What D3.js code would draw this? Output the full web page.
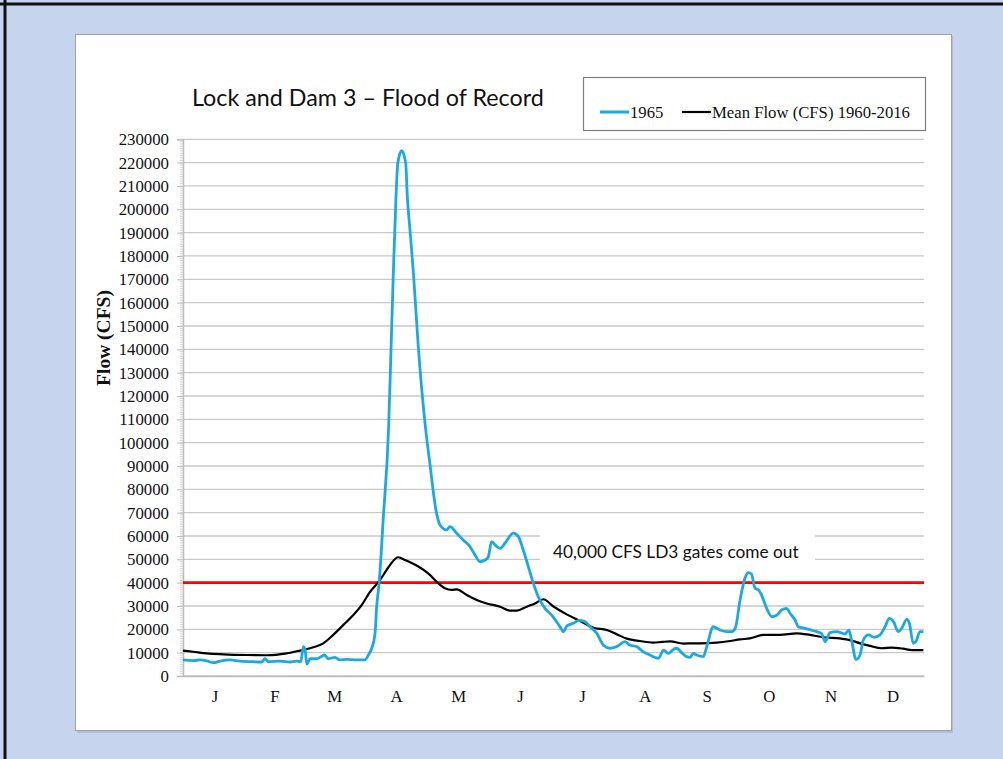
<!DOCTYPE html>
<html><head><meta charset="utf-8">
<script src="https://cdn.jsdelivr.net/npm/d3@7"></script>
<style>html,body{margin:0;padding:0;background:#c6d4ee;}svg{display:block;}</style>
</head><body>
<svg id="chart" width="1003" height="759"></svg>
<script>
// ---- data ----
const monthLabels = ["J","F","M","A","M","J","J","A","S","O","N","D"];
const monthDays = [31,28,31,30,31,30,31,31,30,31,30,31];
const yTickValues = [0,10000,20000,30000,40000,50000,60000,70000,80000,90000,100000,110000,120000,130000,140000,150000,160000,170000,180000,190000,200000,210000,220000,230000];
const seriesNames = ["1965", "Mean Flow (CFS) 1960-2016"];
const threshold = 40000;
const titleText = "Lock and Dam 3 \u2013 Flood of Record";
const annotationText = "40,000 CFS LD3 gates come out";
const yTitle = "Flow (CFS)";

const days1965 = [0,5,8.4,11.7,15,18.2,23.2,28.1,34.6,38.8,40.4,42,47.8,52.7,56,58,59.3,60.1,61,62.6,65.9,67.5,69.6,71.6,74.9,77.3,80.6,85.5,89.6,91.3,93,94.6,95.4,96.6,98.6,101.3,102.5,103.6,104.9,105.8,107.7,109.7,110.5,111.8,113.5,115.9,119.2,121.6,124.9,126.6,129.9,131.5,134.8,138,141.4,143.8,146.3,148.8,150.4,152,153.7,156.2,158.6,162.7,165.2,167.6,170.1,172.6,175,178.3,181.6,185.7,187.4,189,192.3,195,198,200.5,203.8,207,210.3,213.6,217.7,220,223.4,226.7,230,234.2,236.7,239,241.6,243,246,248,249.8,251.3,253,256.3,258,261.2,264.5,267.8,270,272,274.4,276.8,278.5,280,281.8,283.5,285,287.5,290,292.5,294.9,297.4,299,301.5,303.1,306.4,309.5,312.2,314.5,316.3,318.7,322,326.1,328,329.3,331.5,333.5,335.1,337.6,340.5,343.3,345.8,347.9,350,352.3,354,356.5,357.8,359.7,361,363,364.7];
const flow1965 = [6900,6600,6900,6500,5700,6400,6900,6400,6100,6000,7400,6100,6400,6000,6400,6100,12600,11400,5100,7400,7400,8000,9000,7400,8000,6900,7100,6900,6900,9000,12000,18300,29700,39700,66900,107000,141000,172600,205000,219700,225100,219700,205400,191200,172600,141100,108400,91100,69700,64700,62600,64000,61200,58300,55400,51900,49000,49700,51100,57600,56200,54700,56900,61200,59700,54000,46900,39700,34000,29000,26100,21100,19000,21400,22600,23800,23300,21100,18300,13300,11900,12600,14700,13300,12600,10400,9000,7600,11100,9700,11400,11900,9700,8300,8000,9700,9000,8300,12600,21100,19700,19000,19000,20400,32600,41900,44300,43700,37600,36900,34700,29000,25400,26100,28300,29000,26900,24000,21100,20400,19700,19000,18300,14700,18600,19000,18000,19700,15400,7100,9000,15400,17600,16600,17600,21100,24700,23300,19000,20400,24300,22600,14000,14700,19000,19000];

const daysMean = [0,5,11.7,20,31.4,41.2,51,57.6,64.2,69.1,74,79,83.9,88,92.1,97,102,106,109.4,115.9,120.8,125.8,129,132.4,134.8,139.8,144.7,149.6,156.2,161.1,164.4,169.3,173.4,177.5,182.3,189,195.6,202.2,208.7,213.6,218.6,225.1,231.7,236,240,246.5,251,254.7,262.9,269.5,274.4,279.3,285.8,294,302.3,308.9,315.4,323.6,328.6,333.5,338.4,344.2,349,354.8,359,364.7];
const flowMean = [10900,10400,9700,9300,9000,8900,9700,10900,12300,14000,17600,21900,26100,30400,36000,41100,47600,50900,49700,46900,44000,39700,37600,36900,37100,34700,32600,31100,29700,28000,28000,29700,31100,32900,29900,26400,23600,20700,19700,17900,16000,15000,14300,14600,14800,13900,14000,14000,14300,15000,15700,16100,17600,17600,18300,17600,16600,16100,15400,14000,12900,11900,12200,11700,11100,11100];

// ---- layout ----
const W = 1003, H = 759;
const plot = {left: 183, right: 924, top: 139.3, bottom: 676};
const blue = "#1aa9e3", black = "#000", red = "#ff0000", grid = "#c9c9c9";
const serif = "'Liberation Serif','Times New Roman',serif";
const sans = "Lato,'Open Sans',sans-serif";

const svg = d3.select("#chart");
svg.append("rect").attr("width", W).attr("height", H).attr("fill", "#c6d4ee");
svg.append("line").attr("x1", 0).attr("x2", W).attr("y1", 4).attr("y2", 4).attr("stroke", "#111").attr("stroke-width", 3);
svg.append("line").attr("x1", 5).attr("x2", 5).attr("y1", 0).attr("y2", H).attr("stroke", "#111").attr("stroke-width", 3);
// panel shadow + panel
svg.append("rect").attr("x", 77).attr("y", 36).attr("width", 876).attr("height", 697).attr("fill", "#9fb0cc").attr("opacity", 0.6);
svg.append("rect").attr("x", 75.5).attr("y", 34.5).attr("width", 876).attr("height", 696).attr("fill", "#fff").attr("stroke", "#a3a3a3").attr("stroke-width", 1);

const x = d3.scaleLinear().domain([0, 365]).range([plot.left, plot.right]);
const y = d3.scaleLinear().domain([0, 230000]).range([plot.bottom, plot.top]);

// gridlines
svg.append("g").selectAll("line").data(yTickValues).join("line")
  .attr("x1", plot.left).attr("x2", plot.right)
  .attr("y1", d => y(d)).attr("y2", d => y(d))
  .attr("stroke", grid).attr("stroke-width", 1.3);

// y axis
const yAxis = d3.axisLeft(y).tickValues(yTickValues).tickFormat(d3.format("d")).tickSize(6).tickPadding(8);
const ya = svg.append("g").attr("transform", `translate(${plot.left},0)`).call(yAxis);
ya.select(".domain").attr("stroke", "#bdbdbd").attr("stroke-width", 1.5);
ya.selectAll(".tick line").attr("stroke", "#bdbdbd");
ya.selectAll("text").attr("font-family", serif).attr("font-size", 16.8).attr("fill", "#111");
// minor ticks
svg.append("g").selectAll("line").data(d3.range(0, 230001, 1000)).join("line")
  .attr("x1", plot.left - 3).attr("x2", plot.left)
  .attr("y1", d => y(d)).attr("y2", d => y(d))
  .attr("stroke", "#c8c8c8").attr("stroke-width", 0.8);

// x axis (month labels at month midpoints)
const monthStarts = monthDays.map((d, i) => d3.sum(monthDays.slice(0, i)));
const monthMids = monthStarts.map((s, i) => s + monthDays[i] / 2);
const xAxis = d3.axisBottom(x).tickValues(monthMids).tickFormat((d, i) => monthLabels[i]).tickSize(0).tickPadding(14);
const xa = svg.append("g").attr("transform", `translate(0,${plot.bottom})`).call(xAxis);
xa.select(".domain").attr("stroke", "#bdbdbd").attr("stroke-width", 1.5);
xa.selectAll("text").attr("font-family", serif).attr("font-size", 16.8).attr("fill", "#111");

// y title
svg.append("text").attr("transform", `translate(110,338) rotate(-90)`)
  .attr("text-anchor", "middle").attr("font-family", serif).attr("font-weight", "bold")
  .attr("font-size", 19.5).attr("fill", "#111").text(yTitle);

// annotation
svg.append("rect").attr("x", 540).attr("y", y(62500)).attr("width", 275).attr("height", y(47000) - y(62500)).attr("fill", "#fff");
svg.append("text").attr("x", 553).attr("y", 558).attr("font-family", sans).attr("font-size", 17.3).attr("fill", "#111").text(annotationText);

// threshold line
svg.append("line").attr("x1", plot.left).attr("x2", plot.right)
  .attr("y1", y(threshold)).attr("y2", y(threshold)).attr("stroke", red).attr("stroke-width", 2.6);

// series
const line = d3.line().x(d => x(d[0])).y(d => y(d[1])).curve(d3.curveMonotoneX);
svg.append("path").datum(daysMean.map((d, i) => [d, flowMean[i]])).attr("d", line)
  .attr("fill", "none").attr("stroke", black).attr("stroke-width", 2.2).attr("stroke-linejoin", "round");
svg.append("path").datum(days1965.map((d, i) => [d, flow1965[i]])).attr("d", line)
  .attr("fill", "none").attr("stroke", blue).attr("stroke-width", 2.8).attr("stroke-linejoin", "round");

// title
svg.append("text").attr("x", 192).attr("y", 106).attr("font-family", sans).attr("font-size", 23.3).attr("fill", "#111").text(titleText);

// legend
const lg = svg.append("g");
lg.append("rect").attr("x", 583.5).attr("y", 77.5).attr("width", 342).attr("height", 53).attr("fill", "#fff").attr("stroke", "#7f7f7f").attr("stroke-width", 1.2);
const legendItems = [{name: seriesNames[0], color: blue, x: 600}, {name: seriesNames[1], color: black, x: 682}];
legendItems.forEach(it => {
  lg.append("line").attr("x1", it.x).attr("x2", it.x + 29).attr("y1", 112).attr("y2", 112)
    .attr("stroke", it.color).attr("stroke-width", it.color === blue ? 3 : 2.2);
  lg.append("text").attr("x", it.x + 30).attr("y", 118).attr("font-family", serif).attr("font-size", 16.7).attr("fill", "#111").text(it.name);
});
</script>
</body></html>
